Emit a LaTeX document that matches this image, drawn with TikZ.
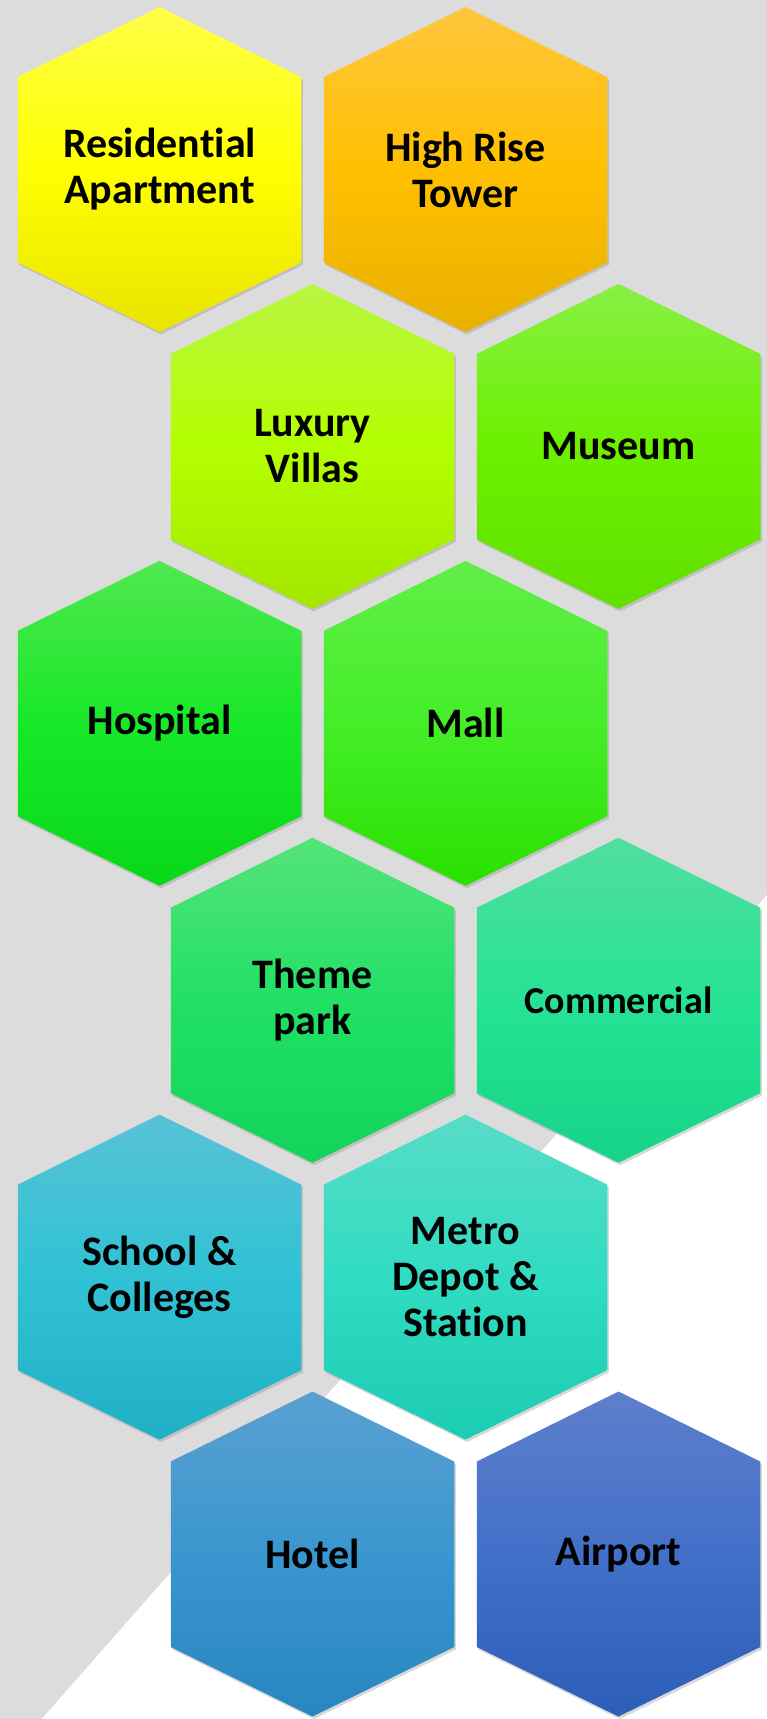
\documentclass[tikz,border=0pt]{standalone}
\usepackage{fontspec}
\setmainfont{Carlito}[Ligatures=NoCommon]
\usetikzlibrary{shadows}

\definecolor{bggray}{HTML}{DCDCDC}
% gradient stops: top / middle / bottom
\definecolor{topres}{HTML}{FFFF48}\definecolor{midres}{HTML}{FFFF00}\definecolor{botres}{HTML}{E8E400}
\definecolor{tophigh}{HTML}{FFC63E}\definecolor{midhigh}{HTML}{FFC000}\definecolor{bothigh}{HTML}{E8B000}
\definecolor{toplux}{HTML}{BAF542}\definecolor{midlux}{HTML}{B3FF00}\definecolor{botlux}{HTML}{A4E600}
\definecolor{topmus}{HTML}{88F045}\definecolor{midmus}{HTML}{6CF000}\definecolor{botmus}{HTML}{60E000}
\definecolor{tophosp}{HTML}{50E850}\definecolor{midhosp}{HTML}{18E828}\definecolor{bothosp}{HTML}{08D818}
\definecolor{topmall}{HTML}{62EE48}\definecolor{midmall}{HTML}{44EE28}\definecolor{botmall}{HTML}{2AE000}
\definecolor{topthm}{HTML}{55E378}\definecolor{midthm}{HTML}{22E066}\definecolor{botthm}{HTML}{12D458}
\definecolor{topcom}{HTML}{52DE9E}\definecolor{midcom}{HTML}{26E294}\definecolor{botcom}{HTML}{16D488}
\definecolor{topsch}{HTML}{58C2D6}\definecolor{midsch}{HTML}{30C2D4}\definecolor{botsch}{HTML}{20B0C6}
\definecolor{topmet}{HTML}{58DCC6}\definecolor{midmet}{HTML}{30DCC2}\definecolor{botmet}{HTML}{1CCCB2}
\definecolor{tophot}{HTML}{5AA0D2}\definecolor{midhot}{HTML}{3A96CE}\definecolor{bothot}{HTML}{2886C0}
\definecolor{topair}{HTML}{5E7FCC}\definecolor{midair}{HTML}{4270C8}\definecolor{botair}{HTML}{2C5EB8}

\begin{document}
\begin{tikzpicture}[
    x=1pt, y=-1pt,
    hexcell/.style={
        drop shadow={opacity=0.3, shadow xshift=1.5pt, shadow yshift=-2.5pt},
        top color=top#1,
        bottom color=bot#1,
        middle color=mid#1
    },
    hextext/.style={
        align=center,
        text=black,
        font=\fontsize{42}{46}\selectfont\bfseries
    }
]

% Background
\useasboundingbox (0,0) rectangle (767,1719);
\fill[bggray] (0,0) rectangle (767,1719);
\fill[white] (41.7,1719) -- (767,895) -- (767,1719) -- cycle;

% Hexagons
\foreach \cx/\cy/\c/\nm/\txt in {
    159.5/169.5/res/resid/{Residential\\Apartment},
    465.5/169.5/high/tower/{High Rise\\Tower},
    312.5/446.4/lux/villas/{Luxury\\Villas},
    618.5/446.4/mus/museum/{Museum},
    159.5/723.3/hosp/hospital/{Hospital},
    465.5/723.3/mall/mall/{Mall},
    312.5/1000.2/thm/themepark/{Theme\\park},
    618.5/1000.2/com/commercial/{\fontsize{38}{42}\selectfont Commercial},
    159.5/1277.1/sch/school/{School \&\\Colleges},
    465.5/1277.1/met/metro/{Metro\\Depot \&\\Station},
    312.5/1554/hot/hotel/{Hotel},
    618.5/1554/air/airport/{Airport}}
{
    \path[hexcell=\c, shift={(\cx,\cy)}]
        (0,-162.5) -- (141.75,-92.5) -- (141.75,93) -- (0,162.5)
        -- (-141.75,93) -- (-141.75,-92.5) -- cycle;
    \node[hextext] (\nm) at (\cx,\cy) {\txt};
}

\end{tikzpicture}
\end{document}
